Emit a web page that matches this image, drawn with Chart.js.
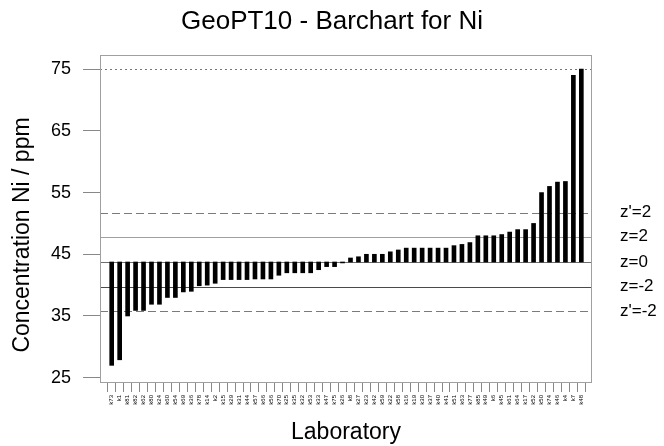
<!DOCTYPE html>
<html>
<head>
<meta charset="utf-8">
<script src="https://cdn.jsdelivr.net/npm/chart.js@4"></script>
<style>
html,body{margin:0;padding:0;background:#fff;}
#c{display:block;}
</style>
</head>
<body>
<canvas id="c" width="664" height="446"></canvas>
<script>
const labs = ["k73","k1","k81","k82","k62","k80","k24","k60","k54","k69","k36","k78","k14","k2","k15","k29","k31","k44","k57","k66","k56","k70","k25","k35","k32","k53","k33","k47","k75","k26","k8","k27","k23","k42","k59","k22","k58","k16","k19","k30","k37","k40","k41","k51","k63","k77","k85","k49","k6","k45","k61","k64","k17","k52","k50","k74","k46","k4","k7","k48"];
const values = [27.0,27.9,35.0,35.9,35.9,36.9,36.9,38.0,38.0,38.9,39.0,39.9,40.0,40.3,40.9,40.9,40.9,40.9,41.0,41.0,41.0,41.6,42.0,42.0,42.0,42.0,42.5,43.0,43.0,43.6,44.4,44.6,45.0,45.0,45.0,45.4,45.7,46.0,46.0,46.0,46.0,46.0,46.0,46.4,46.6,46.9,48.0,48.0,48.0,48.2,48.6,49.0,49.0,50.0,55.0,56.0,56.7,56.8,74.0,75.0];
const baseline = 43.75;
const refLevels = [51.75, 47.85, 43.75, 39.75, 35.8];
const refLabels = ["z'=2", "z=2", "z=0", "z=-2", "z'=-2"];
const maxLine = 75;
const yTicks = [25, 35, 45, 55, 65, 75];

const FONT = "'Liberation Sans', Arial, Helvetica, sans-serif";
const refStyles = [
  {color:'#7a7a7a', dash:[8,4]},
  {color:'#a0a0a0', dash:[]},
  {color:'#6e6e6e', dash:[]},
  {color:'#4a4a4a', dash:[]},
  {color:'#7a7a7a', dash:[8,4]}
];

const decor = {
  id:'decor',
  beforeDatasetsDraw(chart){
    const {ctx, chartArea:a, scales:{y}} = chart;
    ctx.save();
    ctx.lineWidth = 1;
    refLevels.forEach((v,i)=>{
      const py = Math.round(y.getPixelForValue(v)) + 0.5;
      ctx.strokeStyle = refStyles[i].color;
      ctx.setLineDash(refStyles[i].dash);
      ctx.beginPath(); ctx.moveTo(a.left, py); ctx.lineTo(a.right, py); ctx.stroke();
    });
    const pm = Math.round(y.getPixelForValue(maxLine)) + 0.5;
    ctx.strokeStyle = '#777'; ctx.setLineDash([2,3]);
    ctx.beginPath(); ctx.moveTo(a.left, pm); ctx.lineTo(a.right, pm); ctx.stroke();
    ctx.restore();
  },
  afterDraw(chart){
    const {ctx, chartArea:a, scales:{y}} = chart;
    ctx.save();
    ctx.strokeStyle = '#a0a0a0'; ctx.lineWidth = 1; ctx.setLineDash([]);
    ctx.strokeRect(Math.round(a.left)+0.5, Math.round(a.top)+0.5, Math.round(a.right-a.left)-1, Math.round(a.bottom-a.top));
    ctx.fillStyle = '#000';
    ctx.textBaseline = 'middle';
    ctx.font = '17px ' + FONT; ctx.textAlign = 'left';
    refLevels.forEach((v,i)=>{
      ctx.fillText(refLabels[i], 620, y.getPixelForValue(v));
    });
    ctx.textAlign = 'center';
    ctx.font = '26px ' + FONT;
    ctx.fillText('GeoPT10 - Barchart for Ni', 332, 22);
    ctx.font = '23px ' + FONT;
    ctx.fillText('Laboratory', 346, 433);
    ctx.translate(23, 235); ctx.rotate(-Math.PI/2);
    ctx.fillText('Concentration Ni / ppm', 0, 0);
    ctx.restore();
  }
};

new Chart(document.getElementById('c'), {
  type:'bar',
  data:{
    datasets:[{
      data: values.map((v,i)=>({x:i, y:[baseline, v]})),
      backgroundColor:'#000',
      borderWidth:0,
      barThickness:4
    }]
  },
  options:{
    responsive:false,
    animation:false,
    layout:{padding:{left:0, right:72, top:55, bottom:0}},
    plugins:{legend:{display:false}, tooltip:{enabled:false}, title:{display:false}},
    scales:{
      x:{
        type:'linear', min:-1.47, max:60.34, offset:false,
        afterBuildTicks:s=>{ s.ticks = labs.map((_,i)=>({value:i})); },
        afterFit:s=>{ s.height = 64; },
        ticks:{autoSkip:false, minRotation:90, maxRotation:90, padding:3, color:'#000',
          font:{size:6, family:FONT}, callback:(v)=>labs[v]},
        grid:{drawOnChartArea:false, tickLength:10, color:'#888'},
        border:{display:false}
      },
      y:{
        min:24.3, max:77.3,
        afterBuildTicks:s=>{ s.ticks = yTicks.map(v=>({value:v})); },
        afterFit:s=>{ s.width = 100; },
        ticks:{padding:12, color:'#000', font:{size:18, family:FONT}},
        grid:{drawOnChartArea:false, tickLength:17, color:'#888'},
        border:{color:'#a0a0a0'}
      }
    }
  },
  plugins:[decor]
});
</script>
</body>
</html>
